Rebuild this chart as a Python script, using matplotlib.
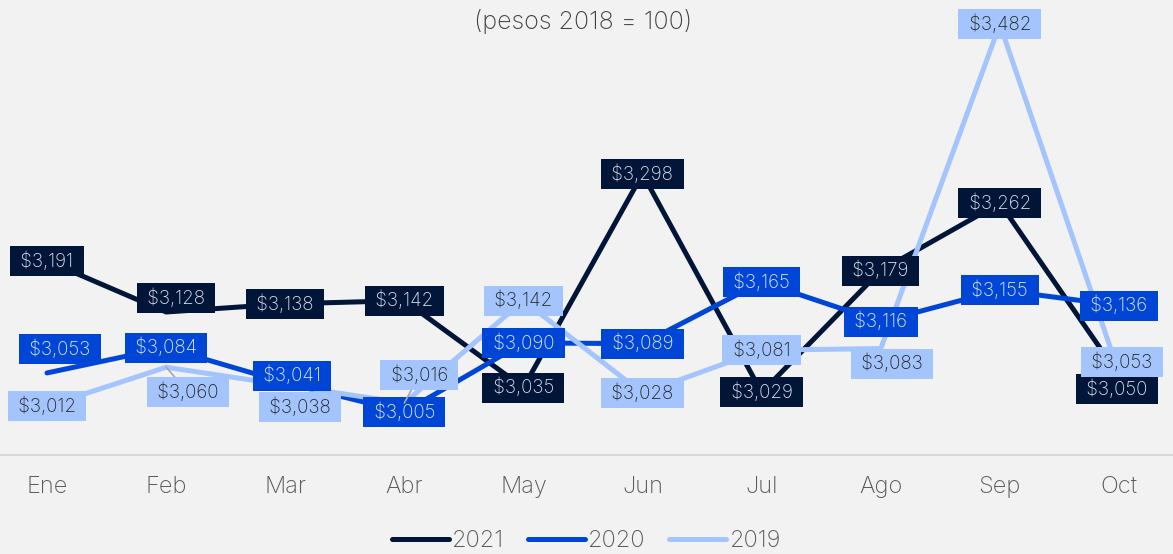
import matplotlib
matplotlib.use("Agg")
import matplotlib.pyplot as plt

plt.rcParams['font.family'] = ['Inter', 'DejaVu Sans']

months = ['Ene', 'Feb', 'Mar', 'Abr', 'May', 'Jun', 'Jul', 'Ago', 'Sep', 'Oct']
y2021 = [3191, 3128, 3138, 3142, 3035, 3298, 3029, 3179, 3262, 3050]
y2020 = [3053, 3084, 3041, 3005, 3090, 3089, 3165, 3116, 3155, 3136]
y2019 = [3012, 3060, 3038, 3016, 3142, 3028, 3081, 3083, 3482, 3053]

c2021 = '#011538'
c2020 = '#0046d6'
c2019 = '#a3c4fc'
bg = '#f2f2f2'

# label offsets in pixels (dx, dy), dy positive = down in picture
off2021 = {1: (10, -14), 9: (-2, 14)}
off2020 = {0: (13, -24), 2: (7, -7)}
off2019 = {1: (22, 25), 2: (15, 22), 3: (15, -28), 7: (11, 15), 9: (3, -11)}
leader2019 = [1, 3]

fig = plt.figure(figsize=(11.73, 5.54), dpi=100, facecolor=bg)
ax = fig.add_axes([0, 99 / 554, 1, 455 / 554])
ax.set_facecolor(bg)

x = list(range(len(months)))
series = [('2021', y2021, c2021, off2021, '#dde3ee'),
          ('2020', y2020, c2020, off2020, '#e6ecfa'),
          ('2019', y2019, c2019, off2019, '#262626')]

for name, vals, col, offs, tcol in series:
    ax.plot(x, vals, color=col, lw=3.6, label=name,
            solid_capstyle='round', solid_joinstyle='round', zorder=2)

for name, vals, col, offs, tcol in series:
    for i, v in enumerate(vals):
        dx, dy = offs.get(i, (0, 0))
        arrow = None
        if name == '2019' and i in leader2019:
            arrow = dict(arrowstyle='-', color='#a6a6a6', lw=1.2,
                         shrinkA=0, shrinkB=0)
        ax.annotate(f" ${v:,} ", (i, v), xytext=(dx, -dy),
                    textcoords='offset pixels', ha='center', va='center',
                    fontsize=13.5, fontweight='light', color=tcol, zorder=5,
                    arrowprops=arrow,
                    bbox=dict(boxstyle='square,pad=0.28', fc=col, ec='none'))

ax.set_xlim(-47 / 119.1, 9 + 54 / 119.1)
ax.set_ylim(2952, 3512)
ax.set_xticks(x)
ax.set_xticklabels(months, fontsize=17, fontweight='light', color='#595959')
ax.tick_params(axis='x', length=0, pad=15)
ax.set_yticks([])
for s in ['top', 'left', 'right']:
    ax.spines[s].set_visible(False)
ax.spines['bottom'].set_color('#d9d9d9')
ax.spines['bottom'].set_linewidth(1.5)

fig.text(583 / 1173, 1 - 22 / 554, '(pesos 2018 = 100)', ha='center', va='center',
         fontsize=18, fontweight='light', color='#404040')

leg = fig.legend(loc='center', bbox_to_anchor=(0.5, 13 / 554), ncol=3, frameon=False,
                 prop={'size': 17, 'weight': 'light'}, handlelength=2.4,
                 handletextpad=0.15, columnspacing=1.0, labelcolor='#595959')
for h in leg.legend_handles:
    h.set_solid_capstyle('round')

fig.savefig('out.png', dpi=100, facecolor=bg)
